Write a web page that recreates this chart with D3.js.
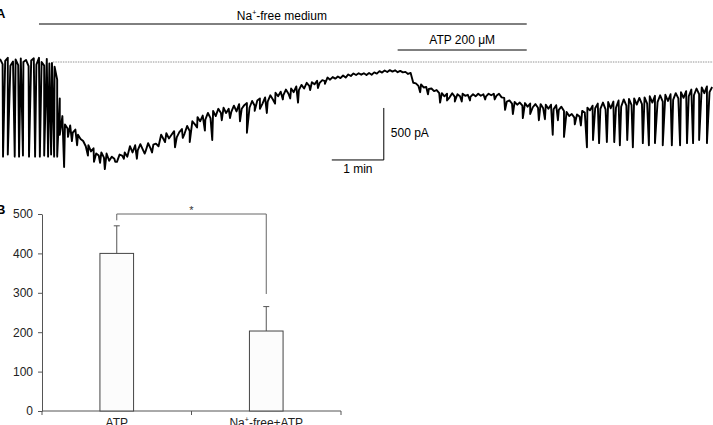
<!DOCTYPE html>
<html>
<head>
<meta charset="utf-8">
<script src="https://cdn.jsdelivr.net/npm/d3@7"></script>
<style>
  body { margin: 0; background: #fff; }
  svg { font-family: "Liberation Sans", Arial, sans-serif; }
</style>
</head>
<body>
<svg id="chart" width="713" height="425"></svg>
<script>
// ---- Panel A: whole-cell current trace ----
// current (pA, relative to the starting baseline), one sample every 3 s
const sampleStep = 3;
const traceI = [
  30, -20, 10, 40, -35, 5, 25, -30, 35, 0,
  20, -40, 15, 35, -25, 40, 0, -35, 30, -15,
  -10, -45, -170, -350, -520, -600, -640, -610, -680, -650,
  -700, -740, -760, -810, -800, -860, -830, -880, -900, -870,
  -920, -880, -950, -910, -930, -960, -890, -900, -870, -910,
  -810, -870, -800, -850, -790, -845, -860, -780, -835, -795,
  -785, -810, -700, -745, -685, -735, -700, -665, -725, -675,
  -645, -690, -615, -665, -570, -600, -530, -570, -515, -555,
  -490, -540, -470, -520, -450, -490, -440, -490, -450, -480,
  -420, -475, -405, -450, -415, -395, -440, -375, -420, -370,
  -350, -400, -340, -380, -320, -360, -295, -330, -285, -320,
  -265, -305, -255, -290, -235, -270, -220, -255, -200, -230,
  -195, -215, -180, -200, -175, -185, -150, -170, -145, -160,
  -140, -155, -130, -150, -120, -135, -110, -125, -108, -122,
  -108, -125, -105, -122, -100, -112, -88, -102, -82, -96,
  -78, -92, -80, -98, -85, -100, -95, -115, -105, -200,
  -205, -230, -215, -245, -240, -260, -255, -280, -270, -300,
  -300, -330, -305, -340, -300, -335, -310, -330, -305, -325,
  -315, -335, -310, -330, -305, -325, -310, -330, -305, -320,
  -305, -325, -305, -340, -345, -380, -370, -400, -385, -410,
  -390, -420, -395, -430, -400, -435, -405, -440, -405, -445,
  -410, -450, -410, -455, -415, -460, -430, -470, -480, -520,
  -500, -535, -505, -525, -470, -485, -440, -465, -420, -445,
  -400, -450, -390, -455, -385, -445, -380, -440, -370, -430,
  -360, -420, -355, -415, -350, -410, -345, -405, -340, -400,
  -330, -390, -325, -385, -320, -380, -315, -375, -310, -365,
  -300, -350, -290, -345, -280, -330, -265, -320, -255, -310,
  -245, -300, -235, -290, -240
];

// fast inward current transients: time (s) and peak (pA)
const spikeT = [
  3.5, 9, 17, 22, 26.5, 33.5, 40.5, 46, 51, 55.5, 59, 62.5, 66,
  69, 74, 78.5, 83, 89, 101.5, 108.5, 115.5, 121, 133, 143, 158, 167, 175.5,
  190.5, 202, 211, 219, 227.5, 236.5, 245, 256, 265.5, 277, 285, 294, 300,
  308, 317.5, 326.5, 335, 344, 358, 367, 375,
  485, 494, 508, 516, 525, 533, 542.5, 560, 571,
  583, 592, 603.5, 612, 622, 629, 638, 644, 651, 663.5, 670.5,
  677.5, 684.5, 691.5, 700.5, 709, 715.5, 724, 730.5, 742, 749, 756, 765,
  775.5, 785, 793, 800, 807, 816
];
const spikeI = [
  -910, -890, -910, -910, -900, -910, -910, -910, -900, -910, -890, -910, -910,
  -700, -1010, -720, -760, -800, -900, -960, -970, -1030, -960, -930, -930, -880, -870,
  -770, -820, -730, -770, -630, -660, -750, -560, -540, -570, -680, -470, -450,
  -490, -400, -360, -350, -390, -270, -250, -210,
  -290, -310, -390, -370, -380, -380, -370, -360, -360,
  -460, -500, -540, -500, -560, -550, -700, -560, -720, -600, -610,
  -820, -750, -780, -770, -770, -800, -750, -820, -780, -800, -780, -800,
  -800, -800, -780, -780, -750, -780
];

// application bars (s)
const naFree = [45, 608];
const atpOn = [459, 608];

// ---- Panel B: bar chart ----
const categories = ["ATP", "Na+-free+ATP"];
const barValues = [400, 203];
const barErrors = [70, 62];
const yTicks = [0, 100, 200, 300, 400, 500];
const bracketLegs = [484, 297]; // where the bracket legs end (axis units)

const svg = d3.select("#chart");
const black = "#000";

// scales for trace
const xA = d3.scaleLinear().domain([0, 823]).range([0, 713]);
const yA = d3.scaleLinear().domain([0, -1000]).range([62, 166]);

// baseline reference (dotted)
svg.append("line")
  .attr("x1", xA(61)).attr("x2", 713)
  .attr("y1", yA(0)).attr("y2", yA(0))
  .attr("stroke", "#777").attr("stroke-width", 0.8)
  .attr("stroke-dasharray", "1.5,1");

// merge samples with transients into one time-ordered trace
let pts = traceI.map((v, i) => ({ t: i * sampleStep, v: v }));
spikeT.forEach((t, i) => pts.push({ t: t, v: spikeI[i] }));
pts.sort((a, b) => a.t - b.t);

const line = d3.line().x((d) => xA(d.t)).y((d) => yA(d.v));
svg.append("path")
  .datum(pts)
  .attr("fill", "none")
  .attr("stroke", black)
  .attr("stroke-width", 1.9)
  .attr("stroke-linejoin", "round")
  .attr("d", line);

// panel letters
svg.append("text").attr("x", -4).attr("y", 18)
  .style("font-size", "13px").style("font-weight", "bold").text("A");
svg.append("text").attr("x", -4).attr("y", 214)
  .style("font-size", "13px").style("font-weight", "bold").text("B");

// application bars
svg.append("line")
  .attr("x1", xA(naFree[0])).attr("x2", xA(naFree[1]))
  .attr("y1", 24).attr("y2", 24)
  .attr("stroke", black).attr("stroke-width", 1);
const naLabel = svg.append("text")
  .attr("x", xA((naFree[0] + naFree[1]) / 2) - 1)
  .attr("y", 20)
  .attr("text-anchor", "middle")
  .style("font-size", "12px");
naLabel.append("tspan").text("Na");
naLabel.append("tspan").attr("dy", -5).style("font-size", "7px").text("+");
naLabel.append("tspan").attr("dy", 5).text("-free medium");

svg.append("line")
  .attr("x1", xA(atpOn[0])).attr("x2", xA(atpOn[1]))
  .attr("y1", 50).attr("y2", 50)
  .attr("stroke", black).attr("stroke-width", 1);
svg.append("text")
  .attr("x", xA((atpOn[0] + atpOn[1]) / 2))
  .attr("y", 44)
  .attr("text-anchor", "middle")
  .style("font-size", "12px")
  .text("ATP 200 \u03bcM");

// scale bar: 1 min, 500 pA
const sbT = 443, sbI = -942;
svg.append("path")
  .attr("fill", "none")
  .attr("stroke", black)
  .attr("stroke-width", 1)
  .attr("d", `M${xA(sbT - 60)},${yA(sbI)}H${xA(sbT)}V${yA(sbI + 500)}`);
svg.append("text")
  .attr("x", xA(sbT) + 7).attr("y", 137)
  .style("font-size", "12px").text("500 pA");
svg.append("text")
  .attr("x", xA(sbT - 30)).attr("y", 173)
  .attr("text-anchor", "middle")
  .style("font-size", "12px").text("1 min");

// ---- Panel B drawing ----
const axisCol = "#555";
const xB = d3.scaleBand().domain(categories).range([42, 341]);
const yB = d3.scaleLinear().domain([0, 500]).range([411, 214]);
const barW = xB.bandwidth() * 0.225;

const gy = svg.append("g")
  .attr("transform", "translate(42,0)")
  .call(d3.axisLeft(yB).tickValues(yTicks).tickSize(4).tickSizeOuter(0).tickPadding(5));
gy.select(".domain").attr("stroke", axisCol);
gy.selectAll(".tick line").attr("stroke", axisCol);
gy.selectAll(".tick text")
  .attr("fill", "#222")
  .style("font-size", "12px")
  .style("font-family", "'Liberation Sans', Arial, sans-serif");

// x axis line with ticks at category boundaries
svg.append("line")
  .attr("x1", 42).attr("x2", xB.range()[1])
  .attr("y1", yB(0)).attr("y2", yB(0))
  .attr("stroke", axisCol);
const edges = [xB(categories[0]), xB(categories[1]), xB.range()[1]];
edges.forEach((x) => {
  svg.append("line")
    .attr("x1", x).attr("x2", x)
    .attr("y1", yB(0)).attr("y2", yB(0) + 4)
    .attr("stroke", axisCol);
});

// bars
categories.forEach((c, i) => {
  const cx = xB(c) + xB.bandwidth() / 2;
  // error bar (upper only)
  svg.append("line")
    .attr("x1", cx).attr("x2", cx)
    .attr("y1", yB(barValues[i])).attr("y2", yB(barValues[i] + barErrors[i]))
    .attr("stroke", axisCol);
  svg.append("line")
    .attr("x1", cx - 3).attr("x2", cx + 3)
    .attr("y1", yB(barValues[i] + barErrors[i])).attr("y2", yB(barValues[i] + barErrors[i]))
    .attr("stroke", axisCol);
  svg.append("rect")
    .attr("x", cx - barW / 2)
    .attr("y", yB(barValues[i]))
    .attr("width", barW)
    .attr("height", yB(0) - yB(barValues[i]))
    .attr("fill", "#fcfcfc")
    .attr("stroke", "#444");
});

// category labels
svg.append("text")
  .attr("x", xB(categories[0]) + xB.bandwidth() / 2).attr("y", 427)
  .attr("text-anchor", "middle").style("font-size", "12px").attr("fill", "#222")
  .text("ATP");
const lab2 = svg.append("text")
  .attr("x", xB(categories[1]) + xB.bandwidth() / 2).attr("y", 427)
  .attr("text-anchor", "middle").style("font-size", "12px").attr("fill", "#222");
lab2.append("tspan").text("Na");
lab2.append("tspan").attr("dy", -5).style("font-size", "7px").text("+");
lab2.append("tspan").attr("dy", 5).text("-free+ATP");

// significance bracket
const bx1 = xB(categories[0]) + xB.bandwidth() / 2;
const bx2 = xB(categories[1]) + xB.bandwidth() / 2;
svg.append("path")
  .attr("fill", "none")
  .attr("stroke", "#666")
  .attr("d", `M${bx1},${yB(bracketLegs[0])}V${yB(500)}H${bx2}V${yB(bracketLegs[1])}`);
svg.append("text")
  .attr("x", (bx1 + bx2) / 2).attr("y", 214)
  .attr("text-anchor", "middle")
  .style("font-size", "11px").attr("fill", "#333")
  .text("*");
</script>
</body>
</html>
